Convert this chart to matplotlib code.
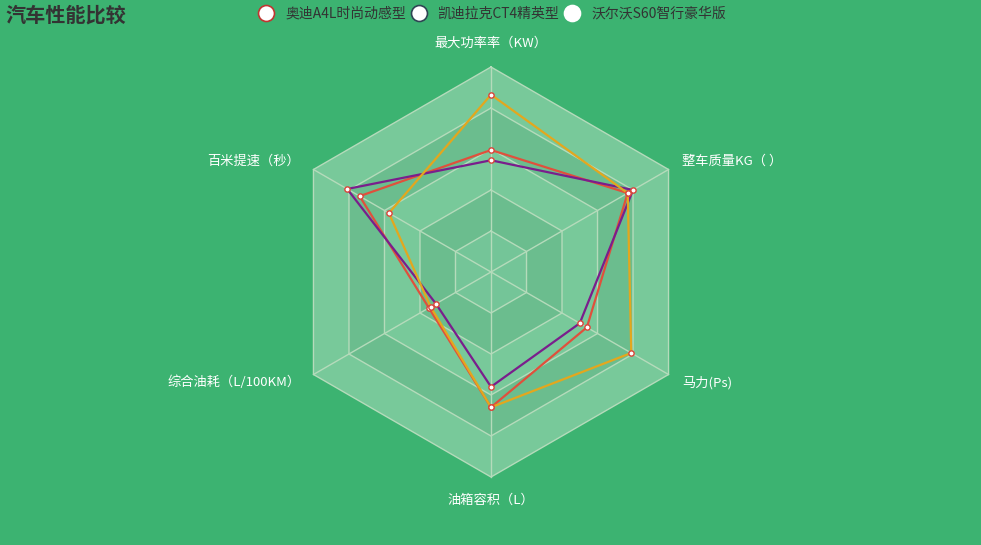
import numpy as np
import matplotlib
matplotlib.use('Agg')
import matplotlib.pyplot as plt
from matplotlib.lines import Line2D

plt.rcParams['font.family'] = ['Noto Sans CJK SC', 'DejaVu Sans']

# radar indicators, clockwise from the top
indicators = ['最大功率率（KW）', '整车质量KG（ ）', '马力(Ps)', '油箱容积（L）', '综合油耗（L/100KM）', '百米提速（秒）']
series_names = ['奥迪A4L时尚动感型', '凯迪拉克CT4精英型', '沃尔沃S60智行豪华版']
audi = [59.5, 77, 54, 66, 35, 74]
cadillac = [54.5, 80, 50, 56, 31, 81]
volvo = [86.5, 77, 79, 66, 34, 57.5]
max_val = 100

line_colors = ['#e0503c', '#7a1e8c', '#e3a71e']
legend_edges = ['#c23531', '#2f4554', '#ffffff']
bg = '#3cb371'

n = len(indicators)
theta = np.arange(n) * 2 * np.pi / n

def xy(vals):
    r = np.asarray(vals, dtype=float) / max_val
    return r * np.sin(theta), r * np.cos(theta)

fig = plt.figure(figsize=(9.81, 5.45), dpi=100, facecolor=bg)
W, H = 981, 545
cx, cy, R = 491, 272, 205
lim = 1.2
ax = fig.add_axes([(cx - lim * R) / W, (H - cy - lim * R) / H, 2 * lim * R / W, 2 * lim * R / H])
ax.set_xlim(-lim, lim)
ax.set_ylim(-lim, lim)
ax.set_aspect('equal')
ax.axis('off')

# split areas, outermost first
band_colors = ['#78c99a', '#6bbd8e', '#78c99a', '#6bbd8e', '#74c598']
for i, lvl in enumerate([1.0, 0.8, 0.6, 0.4, 0.2]):
    hx, hy = lvl * np.sin(theta), lvl * np.cos(theta)
    ax.fill(hx, hy, color=band_colors[i], lw=0, zorder=1)
    ax.plot(np.append(hx, hx[0]), np.append(hy, hy[0]), color='#b5dbbb', lw=1, zorder=2)
for t in theta:
    ax.plot([0, np.sin(t)], [0, np.cos(t)], color='#b5dbbb', lw=1, zorder=2)

for vals, c in zip([audi, cadillac, volvo], line_colors):
    x, y = xy(vals)
    ax.plot(np.append(x, x[0]), np.append(y, y[0]), color=c, lw=1.6, zorder=3)
for vals in [audi, cadillac, volvo]:
    x, y = xy(vals)
    ax.plot(x, y, 'o', ms=3.8, mfc='white', mec='#d9453a', mew=1, zorder=4, ls='none')

# indicator labels
for t, lab in zip(theta, indicators):
    s, c = np.sin(t), np.cos(t)
    if abs(s) < 1e-6:
        ax.text(0, c * 1.115, lab, ha='center', va='center', color='white', fontsize=9.5)
    else:
        ax.text(s + np.sign(s) * 0.065, c + np.sign(c) * 0.04, lab,
                ha='left' if s > 0 else 'right', va='center', color='white', fontsize=9.5)

fig.text(5 / W, 1 - 15 / H, '汽车性能比较', fontsize=14.5, fontweight='bold', color='#333333',
         ha='left', va='center')

handles = [Line2D([], [], marker='o', ls='none', ms=11.5, mfc='white', mec=e, mew=1.2) for e in legend_edges]
fig.legend(handles, series_names, loc='center', bbox_to_anchor=(492 / W, 1 - 14 / H), ncol=3,
           frameon=False, fontsize=10, handletextpad=0.8, columnspacing=0.3, labelcolor='#333333',
           handlelength=1.2)

fig.savefig('out.png', dpi=100, facecolor=bg)
